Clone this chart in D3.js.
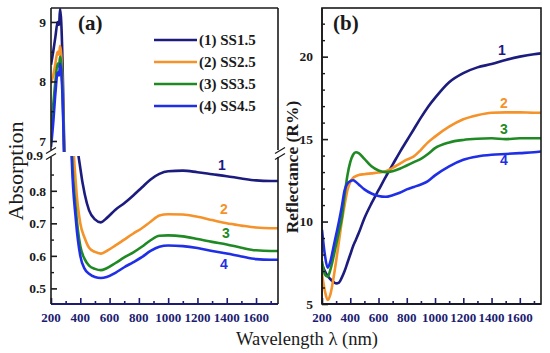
<!DOCTYPE html>
<html lang="en">
<head>
<meta charset="UTF-8">
<title>Absorption and reflectance</title>
<script src="https://d3js.org/d3.v7.min.js"></script>
<style>
  body { margin: 0; background: #fff; }
  text { font-family: "Liberation Serif", "Times New Roman", serif; }
</style>
</head>
<body>
<script>
// ---- data ----
var seriesNames = ["(1) SS1.5", "(2) SS2.5", "(3) SS3.5", "(4) SS4.5"];
var colors = ["#1c1c7e", "#f5922a", "#1f8a24", "#1f2fe6"];
var xTicks = [200, 400, 600, 800, 1000, 1200, 1400, 1600];

// panel (a): absorption
var wlA = [200, 215, 230, 245, 255, 262, 270, 278, 285, 292, 310, 340, 370, 400, 430, 460, 500, 540, 580,
           640, 700, 760, 820, 880, 940, 1000, 1100, 1200, 1300, 1400, 1500, 1600, 1700, 1750];
var abs1 = [8.28, 8.5, 8.75, 9.0, 8.95, 9.22, 9.0, 8.4, 7.6, 6.6, 3.0, 1.4, 1.0, 0.87, 0.79, 0.74, 0.712, 0.703, 0.716,
            0.742, 0.762, 0.785, 0.81, 0.835, 0.852, 0.86, 0.862, 0.857, 0.851, 0.845, 0.838, 0.832, 0.83, 0.83];
var abs2 = [7.97, 8.1, 8.3, 8.5, 8.45, 8.6, 8.45, 8.0, 7.4, 6.6, 2.8, 1.1, 0.82, 0.70, 0.655, 0.625, 0.612, 0.607, 0.615,
            0.632, 0.65, 0.668, 0.685, 0.705, 0.724, 0.728, 0.727, 0.72, 0.71, 0.70, 0.693, 0.687, 0.685, 0.685];
var abs3 = [7.2, 7.6, 8.0, 8.3, 8.25, 8.42, 8.3, 7.9, 7.3, 6.6, 2.6, 0.95, 0.74, 0.63, 0.59, 0.57, 0.56, 0.556, 0.562,
            0.578, 0.595, 0.61, 0.628, 0.648, 0.662, 0.663, 0.66, 0.652, 0.643, 0.635, 0.625, 0.617, 0.615, 0.615];
var abs4 = [6.9, 7.3, 7.8, 8.15, 8.1, 8.3, 8.15, 7.8, 7.2, 6.5, 2.5, 0.92, 0.71, 0.60, 0.56, 0.545, 0.535, 0.532, 0.535,
            0.548, 0.565, 0.58, 0.596, 0.615, 0.628, 0.632, 0.63, 0.624, 0.615, 0.607, 0.598, 0.59, 0.588, 0.588];
var absUpperTicks = [7, 8, 9];
var absLowerTicks = [0.5, 0.6, 0.7, 0.8, 0.9];

// panel (b): reflectance
var wlB = [200, 220, 240, 260, 280, 300, 320, 340, 360, 380, 400, 420, 440, 460, 500, 550, 600, 650, 700,
           750, 800, 850, 900, 950, 1000, 1100, 1200, 1300, 1400, 1500, 1600, 1700, 1750];
var ref1 = [7.4, 7.0, 6.7, 6.5, 6.35, 6.25, 6.3, 6.6, 7.0, 7.5, 8.0, 8.5, 8.9, 9.3, 10.2, 11.1, 11.9, 12.7, 13.45,
            14.2, 14.9, 15.6, 16.3, 16.95, 17.5, 18.45, 19.0, 19.35, 19.55, 19.8, 20.0, 20.15, 20.2];
var ref2 = [6.8, 5.8, 5.25, 5.6, 6.5, 7.6, 8.8, 10.0, 11.0, 11.9, 12.4, 12.65, 12.75, 12.82, 12.87, 12.92, 12.97, 13.05, 13.25,
            13.5, 13.75, 13.95, 14.35, 14.8, 15.15, 15.75, 16.2, 16.45, 16.6, 16.62, 16.62, 16.6, 16.6];
var ref3 = [7.6, 6.8, 6.65, 7.1, 7.8, 8.6, 9.4, 10.2, 11.6, 12.8, 13.6, 14.05, 14.2, 14.15, 13.8, 13.35, 13.1, 13.0, 13.05,
            13.2, 13.4, 13.6, 13.8, 14.1, 14.45, 14.8, 14.95, 15.02, 15.05, 15.0, 15.05, 15.05, 15.05];
var ref4 = [9.5, 8.0, 7.2, 7.6, 8.4, 9.2, 10.0, 10.9, 11.9, 12.3, 12.45, 12.5, 12.4, 12.25, 11.95, 11.7, 11.55, 11.5, 11.6,
            11.75, 11.95, 12.1, 12.25, 12.45, 12.8, 13.35, 13.75, 13.95, 14.05, 14.1, 14.15, 14.2, 14.25];
var refTicks = [5, 10, 15, 20];

var absSeries = [abs1, abs2, abs3, abs4];
var refSeries = [ref1, ref2, ref3, ref4];

// ---- drawing ----
var W = 550, H = 353;
var navy = "#1c1c70", ink = "#1a1a1a";

var svg = d3.select("body").append("svg")
    .attr("width", W).attr("height", H);

// panel (a) scales
var xA = d3.scaleLinear().domain([200, 1750]).range([51, 278]);
var yUp = d3.scaleLinear().domain([6.815, 9.235]).range([152, 8]);
var yLow = d3.scaleLinear().domain([0.452, 0.907]).range([304, 156]);

// panel (b) scales
var xB = d3.scaleLinear().domain([200, 1750]).range([322, 541]);
var yB = d3.scaleLinear().domain([5, 22.95]).range([304, 8]);

var defs = svg.append("defs");
function clip(id, x0, y0, x1, y1) {
  defs.append("clipPath").attr("id", id).append("rect")
      .attr("x", x0).attr("y", y0).attr("width", x1 - x0).attr("height", y1 - y0);
}
clip("cUp", 51, 8, 278, 152);
clip("cLow", 51, 156, 278, 304);
clip("cB", 322, 8, 541, 304);

function drawLines(xs, ys, wl, data, clipId) {
  var g = svg.append("g").attr("clip-path", "url(#" + clipId + ")");
  var line = d3.line()
      .x(function(d, i) { return xs(wl[i]); })
      .y(function(d) { return ys(d); })
      .curve(d3.curveMonotoneX);
  data.forEach(function(s, k) {
    g.append("path").attr("d", line(s))
      .attr("fill", "none").attr("stroke", colors[k])
      .attr("stroke-width", 2.6).attr("stroke-linejoin", "round");
  });
}
drawLines(xA, yUp, wlA, absSeries, "cUp");
drawLines(xA, yLow, wlA, absSeries, "cLow");
drawLines(xB, yB, wlB, refSeries, "cB");

// x axes (ticks inward)
function xAxis(xs) {
  var g = svg.append("g").attr("transform", "translate(0,304)");
  g.call(d3.axisTop(xs).tickValues(d3.range(300, 1750, 200)).tickSize(3).tickFormat(""));
  g.call(function(s) { s.select(".domain").remove(); });
  var g2 = svg.append("g").attr("transform", "translate(0,304)");
  g2.call(d3.axisTop(xs).tickValues(xTicks).tickSize(6).tickFormat(""));
  g2.select(".domain").remove();
  svg.selectAll(".tick line").attr("stroke", navy).attr("stroke-width", 1.6);
  svg.append("line").attr("x1", xs.range()[0]).attr("x2", xs.range()[1])
    .attr("y1", 304).attr("y2", 304).attr("stroke", navy).attr("stroke-width", 1.8);
  svg.append("g").selectAll("text").data(xTicks).enter().append("text")
    .attr("x", function(d) { return xs(d); }).attr("y", 322)
    .attr("text-anchor", "middle").attr("font-size", 13).attr("font-weight", "bold")
    .attr("fill", navy).text(function(d) { return d; });
}
xAxis(xA);
xAxis(xB);

// y axes
function yAxis(ys, x, major, minor, fmt, labelX, y0, y1) {
  var g = svg.append("g").attr("transform", "translate(" + x + ",0)");
  g.call(d3.axisRight(ys).tickValues(minor).tickSize(3).tickFormat(""));
  g.select(".domain").remove();
  var g2 = svg.append("g").attr("transform", "translate(" + x + ",0)");
  g2.call(d3.axisRight(ys).tickValues(major).tickSize(6).tickFormat(""));
  g2.select(".domain").remove();
  g.selectAll("line").attr("stroke", ink).attr("stroke-width", 1.4);
  g2.selectAll("line").attr("stroke", ink).attr("stroke-width", 1.6);
  svg.append("line").attr("x1", x).attr("x2", x).attr("y1", y0).attr("y2", y1)
    .attr("stroke", ink).attr("stroke-width", 1.6);
  svg.append("g").selectAll("text").data(major).enter().append("text")
    .attr("x", labelX).attr("y", function(d) { return ys(d); }).attr("dy", "0.35em")
    .attr("text-anchor", "end").attr("font-size", 13.5).attr("font-weight", "bold")
    .attr("fill", ink).text(fmt);
}
yAxis(yUp, 51, absUpperTicks, [7.5, 8.5], d3.format("d"), 46, 8, 150);
yAxis(yLow, 51, absLowerTicks.slice(0, 4), [0.55, 0.65, 0.75, 0.85], d3.format(".1f"), 46, 157, 304);
svg.append("text").attr("x", 43).attr("y", yLow(0.9)).attr("dy", "0.1em")
  .attr("text-anchor", "end").attr("font-size", 13.5).attr("font-weight", "bold")
  .attr("fill", ink).text("0.9");
yAxis(yB, 322, refTicks, d3.range(6, 23, 1).filter(function(v) { return v % 5; }), d3.format("d"), 313, 8, 304);

// frames
svg.append("line").attr("x1", 51).attr("x2", 278).attr("y1", 8).attr("y2", 8)
  .attr("stroke", ink).attr("stroke-width", 1.6);
svg.append("line").attr("x1", 278).attr("x2", 278).attr("y1", 8).attr("y2", 150)
  .attr("stroke", ink).attr("stroke-width", 1.6);
svg.append("line").attr("x1", 278).attr("x2", 278).attr("y1", 157).attr("y2", 304)
  .attr("stroke", ink).attr("stroke-width", 1.6);
svg.append("rect").attr("x", 322).attr("y", 8).attr("width", 219).attr("height", 296)
  .attr("fill", "none").attr("stroke", ink).attr("stroke-width", 1.6);

// break marks
function breakMark(x, y) {
  [-2.5, 3.5].forEach(function(o) {
    svg.append("line").attr("x1", x - 5).attr("y1", y + o + 3).attr("x2", x + 5).attr("y2", y + o - 3)
      .attr("stroke", ink).attr("stroke-width", 1.2);
  });
}
breakMark(51, 153);
breakMark(280, 153);

// panel labels
svg.append("text").attr("x", 78).attr("y", 30).attr("font-size", 21).attr("font-weight", "bold")
  .attr("fill", ink).text("(a)");
svg.append("text").attr("x", 333).attr("y", 30).attr("font-size", 21).attr("font-weight", "bold")
  .attr("fill", ink).text("(b)");

// legend
var leg = svg.append("g");
seriesNames.forEach(function(n, i) {
  var y = 40 + i * 22;
  leg.append("line").attr("x1", 154).attr("x2", 197).attr("y1", y).attr("y2", y)
    .attr("stroke", colors[i]).attr("stroke-width", 2.6);
  leg.append("text").attr("x", 199).attr("y", y).attr("dy", "0.35em")
    .attr("font-size", 15).attr("font-weight", "bold").attr("fill", ink).text(n);
});

// curve numbers
var numA = [[222, 165], [224, 209], [226, 233], [224, 264]];
var numB = [[502, 50], [504, 103], [504, 129], [504, 160]];
[numA, numB].forEach(function(pos) {
  pos.forEach(function(p, i) {
    svg.append("text").attr("x", p[0]).attr("y", p[1]).attr("dy", "0.35em")
      .attr("text-anchor", "middle")
      .style("font-family", "'Liberation Sans', Arial, sans-serif")
      .attr("font-size", 14).attr("font-weight", "bold").attr("fill", colors[i])
      .text(i + 1);
  });
});

// axis titles
svg.append("text").attr("transform", "translate(23,171) rotate(-90)")
  .attr("text-anchor", "middle").attr("font-size", 22).attr("fill", ink).text("Absorption");
svg.append("text").attr("transform", "translate(298,167) rotate(-90)")
  .attr("text-anchor", "middle").attr("font-size", 17.5).attr("font-weight", "bold")
  .attr("fill", ink).text("Reflectance (R%)");
svg.append("text").attr("x", 307).attr("y", 345)
  .attr("text-anchor", "middle").attr("font-size", 18.5).attr("fill", ink).text("Wavelength \u03bb (nm)");
</script>
</body>
</html>
